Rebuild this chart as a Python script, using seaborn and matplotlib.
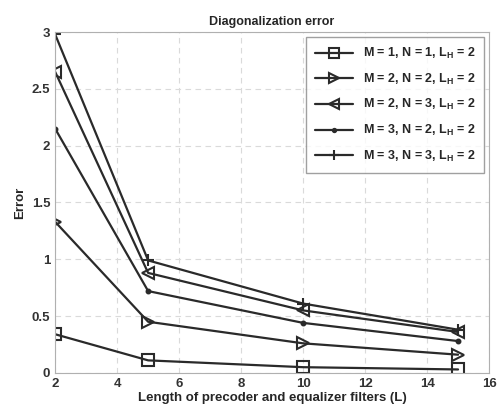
import numpy as np
import pandas as pd
import seaborn as sns
import matplotlib.pyplot as plt

# filter lengths L
lengths = [2, 5, 10, 15]

err_m1n1 = [0.34, 0.11, 0.05, 0.03]
err_m2n2 = [1.33, 0.45, 0.26, 0.16]
err_m2n3 = [2.65, 0.88, 0.55, 0.36]
err_m3n2 = [2.15, 0.72, 0.44, 0.28]
err_m3n3 = [2.98, 0.99, 0.61, 0.38]

labels = [r'M = 1, N = 1, L$_\mathregular{H}$ = 2',
          r'M = 2, N = 2, L$_\mathregular{H}$ = 2',
          r'M = 2, N = 3, L$_\mathregular{H}$ = 2',
          r'M = 3, N = 2, L$_\mathregular{H}$ = 2',
          r'M = 3, N = 3, L$_\mathregular{H}$ = 2']
series = [err_m1n1, err_m2n2, err_m2n3, err_m3n2, err_m3n3]
markers = ['s', '>', '<', '.', '+']

sns.set_style("white")
plt.rcParams['font.family'] = ['Liberation Sans', 'DejaVu Sans']
plt.rcParams['font.weight'] = 'bold'

fig = plt.figure(figsize=(4.97, 4.12), dpi=100)
ax = fig.add_axes([0.111, 0.095, 0.873, 0.827])

for vals, lab, mk in zip(series, labels, markers):
    df = pd.DataFrame({'L': lengths, 'Error': vals})
    sns.lineplot(data=df, x='L', y='Error', ax=ax, color='#2a2a2a', lw=1.6,
                 marker=mk, markersize=8.5 if mk != '.' else 5.5,
                 markerfacecolor='none' if mk in ['s', '>', '<'] else '#2a2a2a',
                 markeredgecolor='#2a2a2a', markeredgewidth=1.5, label=lab)

ax.set_xlim(2, 16)
ax.set_ylim(0, 3)
ax.set_xticks(range(2, 17, 2))
ax.set_yticks([0, 0.5, 1, 1.5, 2, 2.5, 3])
ax.set_yticklabels(['0', '0.5', '1', '1.5', '2', '2.5', '3'])
ax.grid(True, ls=(0, (5, 4)), color='#dadada', lw=0.8)
for s in ax.spines.values():
    s.set_color('#b0b0b0')
    s.set_linewidth(0.8)
ax.tick_params(labelsize=9.5, colors='#333333', length=0)
ax.set_title('Diagonalization error', fontsize=9, fontweight='bold', pad=5)
ax.set_xlabel('Length of precoder and equalizer filters (L)', fontsize=9.5,
              fontweight='bold', labelpad=2)
ax.set_ylabel('Error', fontsize=9.5, fontweight='bold')

leg = ax.legend(loc='upper right', fontsize=9, handlelength=3, labelspacing=0.85,
                frameon=True, fancybox=False, borderaxespad=0.4, markerscale=0.85,
                borderpad=0.7)
leg.get_frame().set_edgecolor('#888888')

fig.savefig('out.png', dpi=100)
